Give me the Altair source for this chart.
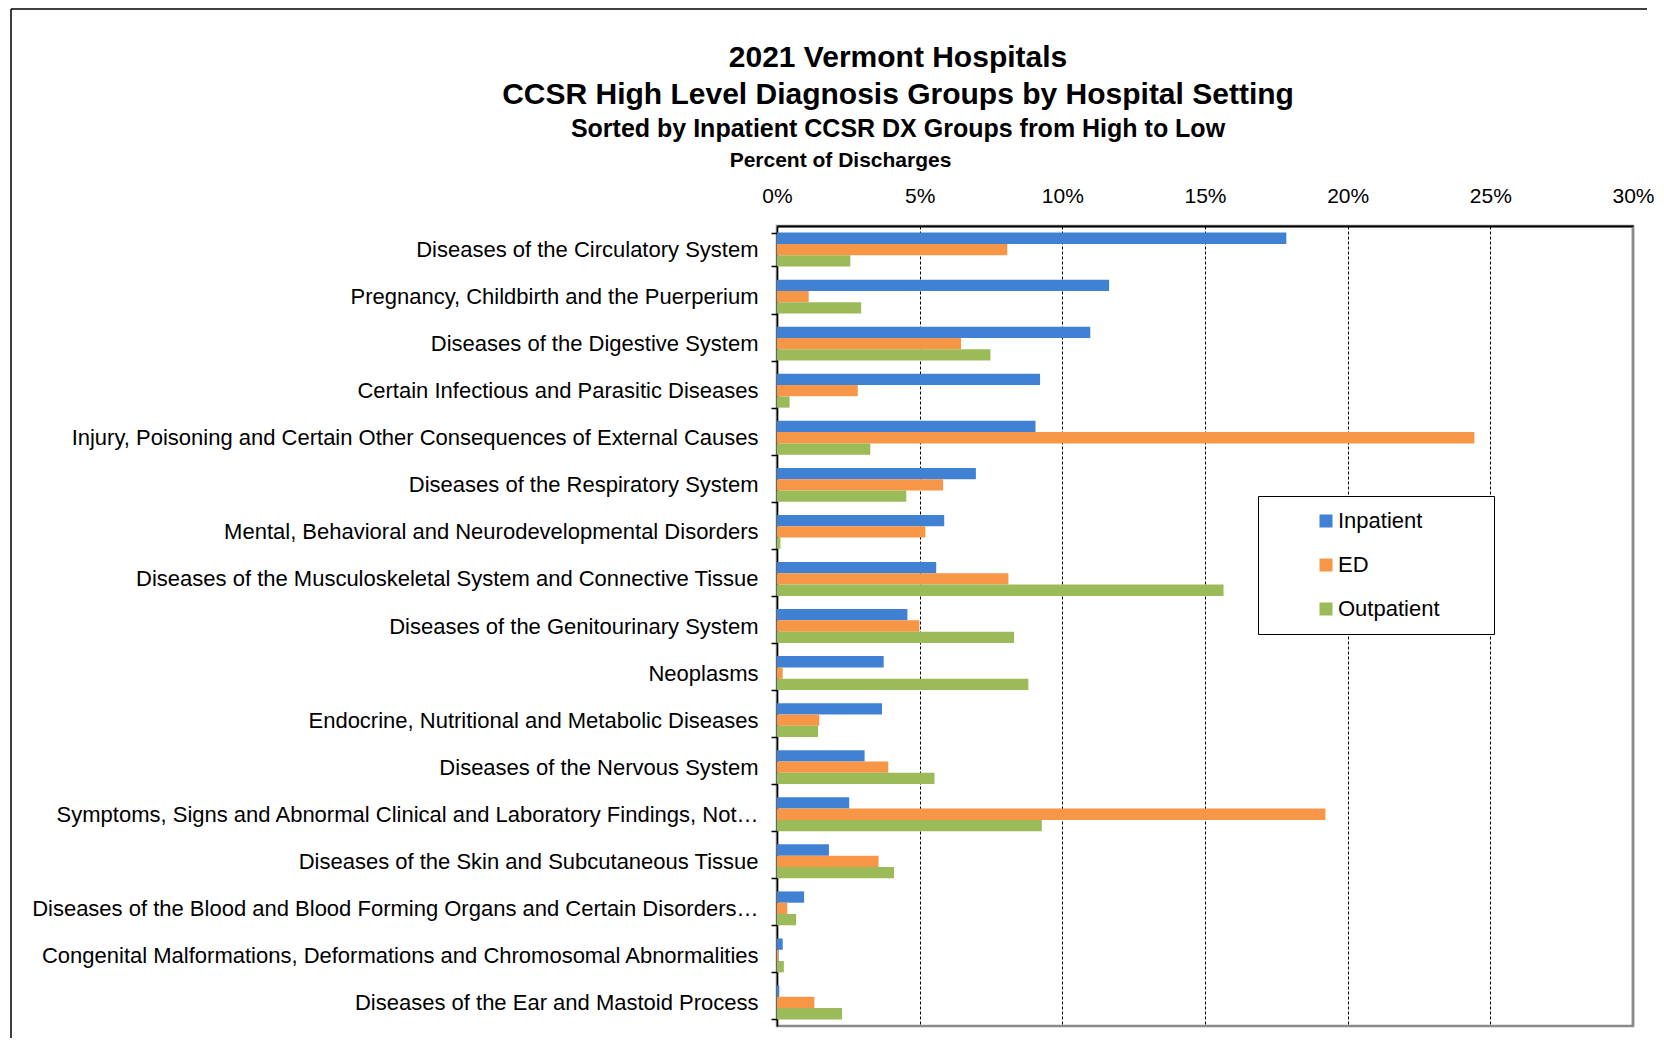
import altair as alt
import pandas as pd

categories = [
    "Diseases of the Circulatory System",
    "Pregnancy, Childbirth and the Puerperium",
    "Diseases of the Digestive System",
    "Certain Infectious and Parasitic Diseases",
    "Injury, Poisoning and Certain Other Consequences of External Causes",
    "Diseases of the Respiratory System",
    "Mental, Behavioral and Neurodevelopmental Disorders",
    "Diseases of the Musculoskeletal System and Connective Tissue",
    "Diseases of the Genitourinary System",
    "Neoplasms",
    "Endocrine, Nutritional and Metabolic Diseases",
    "Diseases of the Nervous System",
    "Symptoms, Signs and Abnormal Clinical and Laboratory Findings, Not\u2026",
    "Diseases of the Skin and Subcutaneous Tissue",
    "Diseases of the Blood and Blood Forming Organs and Certain Disorders\u2026",
    "Congenital Malformations, Deformations and Chromosomal Abnormalities",
    "Diseases of the Ear and Mastoid Process",
]
inpatient = [17.85, 11.64, 10.98, 9.22, 9.06, 6.97, 5.86, 5.58, 4.57, 3.74, 3.68, 3.07, 2.53, 1.82, 0.95, 0.20, 0.08]
ed = [8.07, 1.11, 6.45, 2.83, 24.44, 5.82, 5.20, 8.11, 4.99, 0.20, 1.48, 3.90, 19.22, 3.56, 0.36, 0.04, 1.31]
outpatient = [2.57, 2.95, 7.48, 0.44, 3.27, 4.53, 0.12, 15.65, 8.31, 8.81, 1.44, 5.52, 9.28, 4.10, 0.67, 0.24, 2.28]
settings = ["Inpatient", "ED", "Outpatient"]
colors = ["#4181D3", "#F79646", "#9BBB59"]
ticks = [0, 5, 10, 15, 20, 25, 30]

rows = []
for i, c in enumerate(categories):
    for s, vals in zip(settings, [inpatient, ed, outpatient]):
        rows.append({"Category": c, "Setting": s, "Value": vals[i]})
df = pd.DataFrame(rows)

FONT = "Liberation Sans, Arial, sans-serif"
W, H = 856, 800
EDGE = "datum.value == 0 || datum.value == 30"

bars = alt.Chart(df).mark_bar().encode(
    y=alt.Y(
        "Category:N",
        sort=categories,
        scale=alt.Scale(paddingInner=0.28, paddingOuter=0.14),
        axis=alt.Axis(
            title=None,
            domainColor="#000",
            domainWidth=1.5,
            tickColor="#000",
            tickWidth=1.5,
            tickSize=6,
            tickBand="extent",
            labelFontSize=22,
            labelColor="#000",
            labelPadding=13,
            labelLimit=900,
            grid=False,
        ),
    ),
    yOffset=alt.YOffset("Setting:N", sort=settings, scale=alt.Scale(paddingInner=0, paddingOuter=0)),
    x=alt.X(
        "Value:Q",
        scale=alt.Scale(domain=[0, 30], nice=False),
        axis=alt.Axis(
            orient="top",
            values=ticks,
            labelExpr="datum.value + '%'",
            labelFontSize=21,
            labelColor="#000",
            labelPadding=20,
            labelFlush=False,
            ticks=False,
            domainColor="#000",
            domainWidth=2,
            grid=True,
            gridColor={"condition": {"test": EDGE, "value": "#8a8a8a"}, "value": "#000"},
            gridDash={"condition": {"test": EDGE, "value": []}, "value": [3, 2]},
            gridWidth={"condition": {"test": EDGE, "value": 2}, "value": 1},
            gridOpacity={"condition": {"test": EDGE, "value": 0}, "value": 1},
            title="Percent of Discharges",
            titleFontSize=21,
            titleFontWeight="bold",
            titleColor="#000",
            titleX=63,
            titleY=-66,
            titleAlign="center",
            titleBaseline="middle",
        ),
    ),
    color=alt.Color(
        "Setting:N",
        sort=settings,
        scale=alt.Scale(domain=settings, range=colors),
        legend=alt.Legend(
            title=" ",
            titleOrient="right",
            titlePadding=40,
            titleFontSize=22,
            orient="none",
            legendX=481,
            legendY=270,
            padding=14,
            symbolOffset=43,
            symbolType="square",
            symbolSize=169,
            symbolStrokeWidth=0,
            labelFontSize=22,
            labelColor="#000",
            labelOffset=1,
            rowPadding=22,
            strokeColor="#000",
            fillColor="#fff",
        ),
    ),
)

frame_src = pd.DataFrame({"k": [0]})
top_line = alt.Chart(frame_src).mark_rule(color="#000", strokeWidth=1.5).encode(
    x=alt.value(-766), x2=alt.value(870), y=alt.value(-217)
)
left_line = alt.Chart(frame_src).mark_rule(color="#000", strokeWidth=1.5).encode(
    x=alt.value(-766), y=alt.value(-217), y2=alt.value(812)
)
right_border = alt.Chart(frame_src).mark_rule(color="#8a8a8a", strokeWidth=2.5).encode(
    x=alt.value(W), y=alt.value(1), y2=alt.value(H)
)

chart = alt.layer(bars, right_border, top_line, left_line).properties(
    width=W,
    height=H,
    padding={"left": 2, "top": 0, "right": 0, "bottom": 0},
    title=alt.TitleParams(
        text=["2021 Vermont Hospitals", "CCSR High Level Diagnosis Groups by Hospital Setting"],
        subtitle="Sorted by Inpatient CCSR DX Groups from High to Low",
        fontSize=30,
        fontWeight="bold",
        color="#000",
        lineHeight=37,
        subtitleFontSize=25,
        subtitleFontWeight="bold",
        subtitleColor="#000",
        subtitlePadding=7,
        anchor="middle",
        offset=0,
        dx=-307,
        dy=134,
    ),
).configure(font=FONT).configure_view(stroke="#8a8a8a", strokeWidth=2.5)

chart.save("out.html", embed_options={"renderer": "svg", "actions": False})
